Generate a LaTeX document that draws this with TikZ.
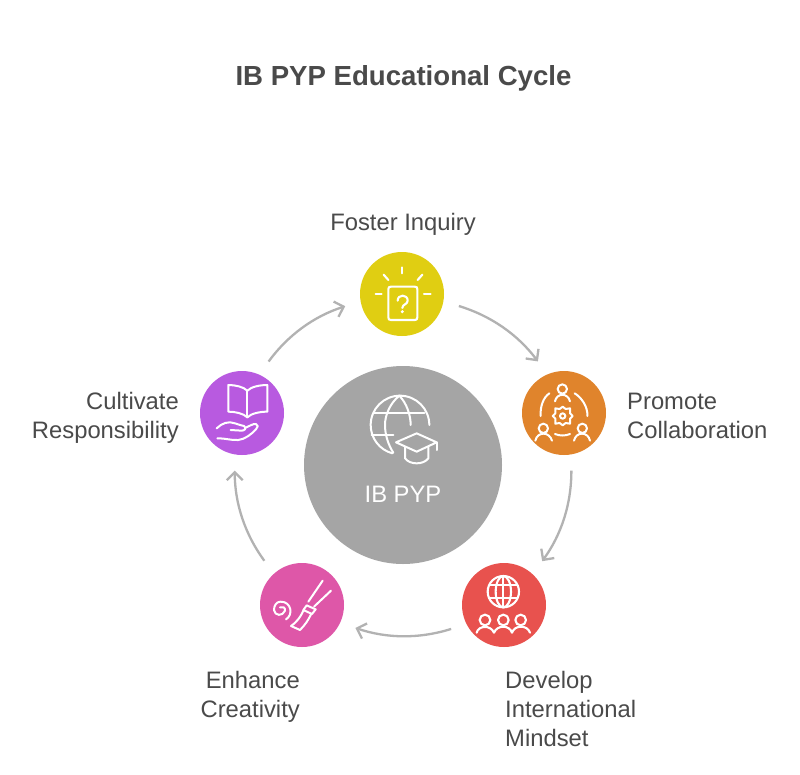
\documentclass[tikz,border=0pt]{standalone}
\usepackage{fontspec}
\setmainfont{Liberation Sans}
\usetikzlibrary{arrows.meta}
\definecolor{cyel}{HTML}{E0CE12}
\definecolor{cora}{HTML}{E0842C}
\definecolor{cred}{HTML}{E8524E}
\definecolor{cpin}{HTML}{DE57A8}
\definecolor{cpur}{HTML}{B85AE0}
\definecolor{cgra}{HTML}{A5A5A5}
\definecolor{ctxt}{HTML}{4A4A4A}
\definecolor{carr}{HTML}{B2B2B2}
\tikzset{
  disc/.style={circle,inner sep=0pt,minimum size=84pt,draw=none},
  lab/.style={text=ctxt,font=\fontsize{23.8}{29}\selectfont,inner sep=0pt},
  conn/.style={draw=carr,line width=2.3pt,-{Straight Barb[length=8pt,width=16pt,line width=2.3pt]},shorten <=16pt,shorten >=16pt,bend left=18},
  icon/.style={draw=white,line width=2.1pt,line cap=round,line join=round},
  iconthin/.style={draw=white,line width=2pt,line cap=round,line join=round},
  zoomed/.style={x=0.33333pt,y=-0.33333pt}
}
\begin{document}
\begin{tikzpicture}[x=1pt,y=-1pt]
\useasboundingbox (0,0) rectangle (800,774);
\fill[white] (0,0) rectangle (800,774);

\node[text=ctxt,font=\fontsize{27.6}{32}\selectfont\bfseries,inner sep=0pt] (title) at (403.5,78) {IB PYP Educational Cycle};

\node[circle,inner sep=0pt,minimum size=198pt,fill=cgra] (hub) at (403,465) {};
\node[disc,fill=cyel] (fi) at (402,294) {};
\node[disc,fill=cora] (pc) at (564,413) {};
\node[disc,fill=cred] (di) at (504,605) {};
\node[disc,fill=cpin] (ec) at (302,605) {};
\node[disc,fill=cpur] (cr) at (242,413) {};

\node[text=white,font=\fontsize{23.8}{29}\selectfont,inner sep=0pt] (hubtxt) at (403,494) {IB PYP};
\node[lab] (lfi) at (403,224) {Foster Inquiry};
\node[lab,anchor=west,align=left] (lpc) at (627,415.5) {Promote\\Collaboration};
\node[lab,anchor=west,align=left] (ldi) at (505,709) {Develop\\International\\Mindset};
\node[lab,anchor=east,align=right] (lec) at (300,696.5) {Enhance\\Creativity};
\node[lab,anchor=east,align=right] (lcr) at (179,418) {Cultivate\\Responsibility};

\draw[conn] (fi.-10) to (pc.113);
\draw[conn] (pc.-80) to (di.47);
\draw[conn] (di.-153) to (ec.-25);
\draw[conn] (ec.132) to (cr.-100);
\draw[conn] (cr.66) to (fi.-170);

% Foster Inquiry icon
\begin{scope}[shift={(340,240)},zoomed]
\draw[icon] (153,140) -- (224,140) .. controls (230,140) and (232,142) .. (232,148) -- (232,232) .. controls (232,238) and (230,240) .. (224,240) -- (153,240) .. controls (147,240) and (145,238) .. (145,232) -- (145,148) .. controls (145,142) and (147,140) .. (153,140) -- cycle;
\draw[icon] (187,82) -- (187,100);
\draw[icon] (131,104) -- (145,120);
\draw[icon] (247,104) -- (233,120);
\draw[icon] (107,162) -- (125,162);
\draw[icon] (252,162) -- (272,162);
\draw[icon] (173,182) .. controls (173,162) and (203,162) .. (203,182) .. controls (203,194) and (187,192) .. (187,204);
\fill[white] (187,215) circle (5);
\end{scope}

% Promote Collaboration icon
\begin{scope}[shift={(500,360)},zoomed]
\draw[iconthin] (187,87) circle (14);
\draw[iconthin] (165,124) .. controls (170,98) and (204,98) .. (210,124);
\draw[iconthin] (130,205) circle (14);
\draw[iconthin] (106,242) .. controls (112,214) and (148,214) .. (156,242);
\draw[iconthin] (247,205) circle (14);
\draw[iconthin] (222,242) .. controls (228,214) and (264,214) .. (270,242);
\draw[iconthin] (148,100) .. controls (130,112) and (120,140) .. (122,168);
\draw[iconthin] (224,100) .. controls (244,112) and (264,140) .. (262,168);
\draw[iconthin] (165,222) .. controls (180,228) and (195,228) .. (210,222);
\draw[iconthin] (188,140) -- (197,147) -- (210,145) -- (210,160) -- (218,168) -- (210,176) -- (210,191) -- (197,189) -- (188,196) -- (179,189) -- (166,191) -- (166,176) -- (158,168) -- (166,160) -- (166,145) -- (179,147) -- cycle;
\draw[iconthin] (188,168) circle (8);
\end{scope}

% Develop International Mindset icon
\begin{scope}[shift={(450,550)},zoomed]
\draw[icon] (160,125) circle (47);
\draw[icon] (160,125) ellipse (23 and 47);
\draw[icon] (160,78) -- (160,172);
\draw[icon] (119,105) -- (201,105);
\draw[icon] (119,143) -- (201,143);
\draw[icon] (105,210) circle (16);
\draw[icon] (160,210) circle (16);
\draw[icon] (212,210) circle (16);
\draw[icon] (80,248) .. controls (85,226) and (122,224) .. (132,248) .. controls (142,224) and (178,224) .. (186,248) .. controls (194,224) and (232,224) .. (240,248);
\end{scope}

% Enhance Creativity icon
\begin{scope}[shift={(250,550)},zoomed]
\draw[iconthin] (175,155) -- (218,92);
\draw[iconthin] (192,170) -- (243,122);
\draw[iconthin] (170,166) -- (197,178) -- (186,192) -- (160,180) -- cycle;
\draw[iconthin] (160,182) .. controls (150,205) and (135,220) .. (123,228) -- (150,240) .. controls (165,225) and (175,210) .. (183,193);
\draw[iconthin] (108,208) .. controls (130,195) and (125,155) .. (92,155) .. controls (78,155) and (72,168) .. (72,180) .. controls (74,198) and (98,200) .. (105,182) .. controls (107,172) and (97,168) .. (90,172);
\end{scope}

% Cultivate Responsibility icon
\begin{scope}[shift={(190,360)},zoomed]
\draw[iconthin] (172,92) .. controls (160,80) and (135,75) .. (115,75) -- (115,155) .. controls (135,155) and (160,160) .. (172,172);
\draw[iconthin] (172,92) .. controls (184,80) and (210,75) .. (232,75) -- (232,155) .. controls (210,155) and (184,160) .. (172,172);
\draw[iconthin] (172,92) -- (172,172);
\draw[iconthin] (80,205) .. controls (95,190) and (115,182) .. (135,190) .. controls (145,194) and (155,196) .. (162,198) .. controls (170,204) and (165,212) .. (155,212) -- (122,210);
\draw[iconthin] (165,204) .. controls (175,200) and (190,190) .. (198,192) .. controls (206,194) and (204,202) .. (198,208) .. controls (185,222) and (165,238) .. (145,240) .. controls (125,242) and (105,234) .. (82,235);
\end{scope}

% Hub icon
\begin{scope}[shift={(340,380)},zoomed]
\draw[iconthin] (268,135) arc[start angle=0,end angle=-255,radius=88];
\draw[iconthin] (178,47) .. controls (150,70) and (135,105) .. (135,135) .. controls (135,165) and (145,195) .. (160,218);
\draw[iconthin] (178,47) .. controls (200,70) and (212,105) .. (212,135);
\draw[iconthin] (103,100) -- (253,100);
\draw[iconthin] (95,165) -- (160,165);
\draw[iconthin] (168,187) -- (230,160) -- (290,187) -- (230,215) -- cycle;
\draw[iconthin] (195,202) -- (195,235) .. controls (210,255) and (250,255) .. (265,235) -- (265,202);
\draw[iconthin] (290,187) -- (290,210);
\end{scope}
\end{tikzpicture}
\end{document}
